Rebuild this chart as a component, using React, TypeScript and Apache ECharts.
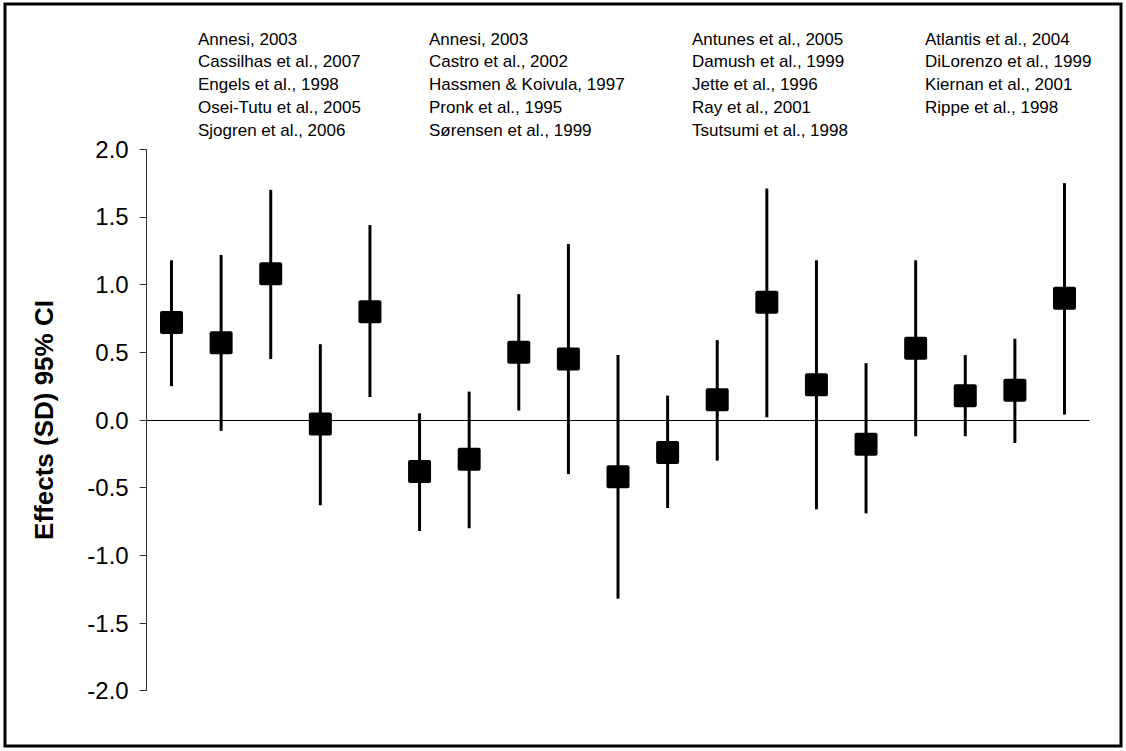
import React, { useEffect, useRef } from "react";
import * as echarts from "echarts";

const studies = ["1","2","3","4","5","6","7","8","9","10","11","12","13","14","15","16","17","18","19"];
const effects = [0.72, 0.57, 1.08, -0.03, 0.80, -0.38, -0.29, 0.50, 0.45, -0.42, -0.24, 0.15, 0.87, 0.26, -0.18, 0.53, 0.18, 0.22, 0.90];
const lowerCI = [0.25, -0.08, 0.45, -0.63, 0.17, -0.82, -0.80, 0.07, -0.40, -1.32, -0.65, -0.30, 0.02, -0.66, -0.69, -0.12, -0.12, -0.17, 0.04];
const upperCI = [1.18, 1.22, 1.70, 0.56, 1.44, 0.05, 0.21, 0.93, 1.30, 0.48, 0.18, 0.59, 1.71, 1.18, 0.42, 1.18, 0.48, 0.60, 1.75];
const yTicks = [-2.0, -1.5, -1.0, -0.5, 0.0, 0.5, 1.0, 1.5, 2.0];

const group1 = ["Annesi, 2003", "Cassilhas et al., 2007", "Engels et al., 1998", "Osei-Tutu et al., 2005", "Sjogren et al., 2006"];
const group2 = ["Annesi, 2003", "Castro et al., 2002", "Hassmen & Koivula, 1997", "Pronk et al., 1995", "Sørensen et al., 1999"];
const group3 = ["Antunes et al., 2005", "Damush et al., 1999", "Jette et al., 1996", "Ray et al., 2001", "Tsutsumi et al., 1998"];
const group4 = ["Atlantis et al., 2004", "DiLorenzo et al., 1999", "Kiernan et al., 2001", "Rippe et al., 1998"];

const FONT = "'Liberation Sans', Arial, Helvetica, sans-serif";

export default function App() {
  const ref = useRef<HTMLDivElement>(null);

  useEffect(() => {
    document.body.style.margin = "0";
    const chart = echarts.init(ref.current!, null, { renderer: "svg" });

    const groups = [group1, group2, group3, group4];
    const groupX = [198, 429, 692, 925];
    const textEls: any[] = [];
    groups.forEach((g, gi) => {
      g.forEach((t, li) => {
        textEls.push({
          type: "text",
          x: groupX[gi],
          y: 39 + li * 22.8,
          style: {
            text: t,
            font: `17px ${FONT}`,
            fill: "#000",
            textAlign: "left",
            textVerticalAlign: "middle",
          },
        });
      });
    });

    const data = studies.map((s, i) => [i, effects[i], lowerCI[i], upperCI[i]]);

    chart.setOption({
      animation: false,
      backgroundColor: "#fff",
      grid: { left: 146.7, right: 36.7, top: 149.3, bottom: 60.3, containLabel: false },
      xAxis: {
        type: "category",
        data: studies,
        boundaryGap: true,
        axisLine: { show: true, onZero: true, lineStyle: { color: "#000", width: 1 } },
        axisTick: { show: false },
        axisLabel: { show: false },
        splitLine: { show: false },
      },
      yAxis: {
        type: "value",
        min: yTicks[0],
        max: yTicks[yTicks.length - 1],
        interval: 0.5,
        name: "Effects (SD) 95% CI",
        nameLocation: "middle",
        nameGap: 90,
        nameTextStyle: { fontFamily: FONT, fontSize: 26, fontWeight: "bold", color: "#000" },
        axisLine: { show: true, lineStyle: { color: "#333", width: 1 } },
        axisTick: { show: true, inside: false, length: 7, lineStyle: { color: "#333", width: 1 } },
        axisLabel: {
          margin: 18,
          fontFamily: FONT,
          fontSize: 24,
          color: "#000",
          formatter: (v: number) => v.toFixed(1),
        },
        splitLine: { show: false },
      },
      series: [
        {
          type: "custom",
          data,
          encode: { x: 0, y: [1, 2, 3] },
          renderItem: (params: any, api: any) => {
            const xi = api.value(0);
            const mid = api.coord([xi, api.value(1)]);
            const lo = api.coord([xi, api.value(2)]);
            const hi = api.coord([xi, api.value(3)]);
            const s = 23;
            return {
              type: "group",
              children: [
                {
                  type: "line",
                  shape: { x1: lo[0], y1: lo[1], x2: hi[0], y2: hi[1] },
                  style: { stroke: "#000", lineWidth: 3 },
                },
                {
                  type: "rect",
                  shape: { x: mid[0] - s / 2, y: mid[1] - s / 2, width: s, height: s, r: 2 },
                  style: { fill: "#000" },
                },
              ],
            };
          },
        },
      ],
      graphic: [
        {
          type: "rect",
          shape: { x: 5, y: 4, width: 1116, height: 742 },
          style: { fill: "none", stroke: "#000", lineWidth: 3 },
          silent: true,
        },
        ...textEls,
      ],
    });

    return () => chart.dispose();
  }, []);

  return <div ref={ref} style={{ width: 1126, height: 751 }} />;
}
